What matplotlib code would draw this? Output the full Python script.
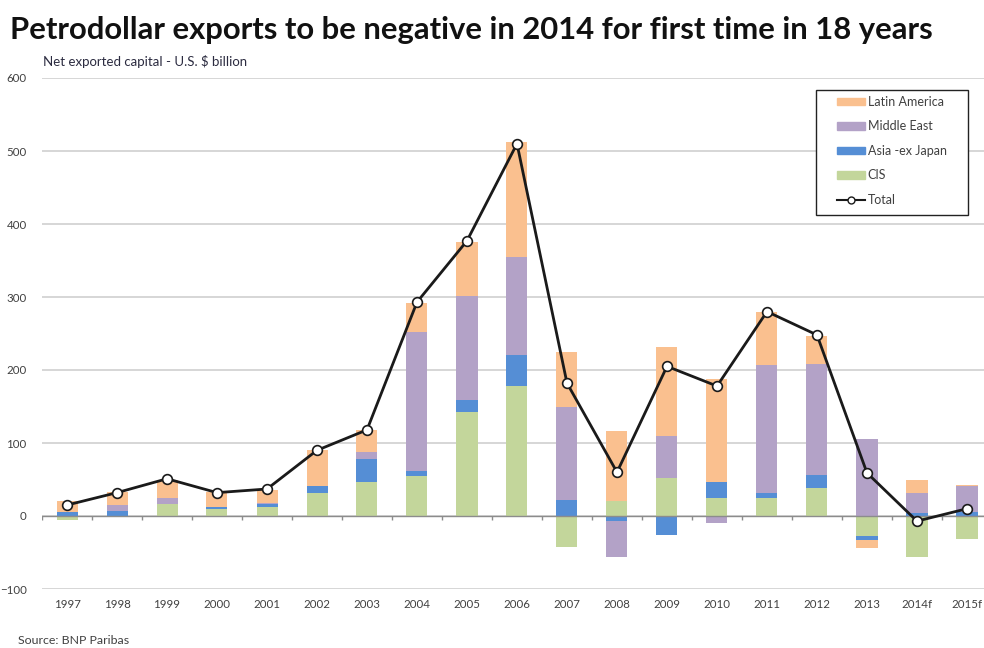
import numpy as np
import matplotlib.pyplot as plt
from matplotlib.lines import Line2D
from matplotlib.patches import Patch, Rectangle

plt.rcParams["font.family"] = ["Lato", "DejaVu Sans"]

# ── Dados (US$ bilhões) ───────────────────────────────────────────────────────
years = ["1997", "1998", "1999", "2000", "2001", "2002", "2003", "2004", "2005",
         "2006", "2007", "2008", "2009", "2010", "2011", "2012", "2013",
         "2014f", "2015f"]
cis = [-5, 0, 17, 10, 13, 32, 46, 55, 143, 178, -43, 20, 52, 24, 24, 38, -28, -56, -31]
asia = [5, 7, 0, 2, 3, 9, 32, 6, 16, 42, 22, -7, -26, 22, 8, 18, -5, 4, 6]
middle_east = [0, 8, 7, 0, 2, 0, 9, 191, 143, 135, 127, -49, 57, -10, 175, 152, 105, 28, 35]
latin_america = [16, 18, 25, 21, 18, 50, 31, 40, 74, 157, 76, 97, 122, 142, 72, 39, -11, 17, 2]
total = [15, 32, 51, 32, 37, 90, 118, 293, 377, 510, 182, 60, 205, 178, 280, 248, 59, -7, 10]

SERIES = [
    ("CIS", cis, "#C3D69B"),
    ("Asia -ex Japan", asia, "#558ED5"),
    ("Middle East", middle_east, "#B3A2C7"),
    ("Latin America", latin_america, "#FAC08F"),
]
TEXT = "#404040"

fig = plt.figure(figsize=(9.84, 6.48), dpi=100)
# eixo estende-se um pouco além da borda direita, como no original
ax = fig.add_axes([42 / 984, 59 / 648, 950 / 984, 511 / 648])

x = np.arange(len(years))
pos = np.zeros(len(years))
neg = np.zeros(len(years))
for name, vals, color in SERIES:
    v = np.array(vals, dtype=float)
    bottom = np.where(v >= 0, pos, neg)
    ax.bar(x, v, bottom=bottom, width=0.42, color=color, zorder=2, linewidth=0)
    pos += np.where(v >= 0, v, 0)
    neg += np.where(v < 0, v, 0)

ax.plot(x, total, color="#1a1a1a", lw=2, marker="o", ms=7,
        mfc="white", mec="#1a1a1a", mew=1.2, zorder=4)

# linha do zero com marcas entre categorias
ax.axhline(0, color="#8c8c8c", lw=1, zorder=3)
ax.vlines(np.arange(len(years) + 1) - 0.5, -6, 0, color="#8c8c8c", lw=1, zorder=3)

ax.set_xlim(-0.5, len(years) - 0.5)
ax.set_ylim(-100, 600)
ax.set_yticks(np.arange(-100, 601, 100))
ax.yaxis.grid(True, color="#d0d0d0", lw=1.2, zorder=0)
ax.set_axisbelow(True)
for s in ax.spines.values():
    s.set_visible(False)
ax.set_xticks(x)
ax.set_xticklabels(years)
ax.tick_params(axis="both", length=0, labelsize=8.3, colors=TEXT)
ax.tick_params(axis="x", pad=7)
ax.tick_params(axis="y", pad=11)

# legenda: moldura desenhada à parte para controlar o tamanho
ax.add_patch(Rectangle((0.8147, 0.732), 0.16, 0.2446, transform=ax.transAxes,
                       facecolor="white", edgecolor="#222222", lw=1, zorder=5))
handles = [Patch(color=c, label=n) for n, _, c in SERIES[::-1]]
handles.append(Line2D([], [], color="#1a1a1a", lw=1.5, marker="o", ms=5,
                      mfc="white", mec="#1a1a1a", label="Total"))
leg = ax.legend(handles=handles, loc="upper left", bbox_to_anchor=(0.837, 0.965),
                fontsize=9, frameon=False, handlelength=2.25,
                handleheight=0.6, labelspacing=1.0, borderpad=0,
                handletextpad=0.2, borderaxespad=0)
leg.set_zorder(6)
for t in leg.get_texts():
    t.set_color(TEXT)

fig.text(10 / 984, 1 - 30 / 648,
         "Petrodollar exports to be negative in 2014 for first time in 18 years",
         fontsize=22.3, fontweight="bold", color="#111111", va="center")
fig.text(43 / 984, 1 - 62 / 648, "Net exported capital - U.S. $ billion",
         fontsize=9.5, color="#2b2b40", va="center")
fig.text(18 / 984, 1 - 640 / 648, "Source: BNP Paribas",
         fontsize=8.9, color=TEXT, va="center")

fig.savefig("out.png", dpi=100)
